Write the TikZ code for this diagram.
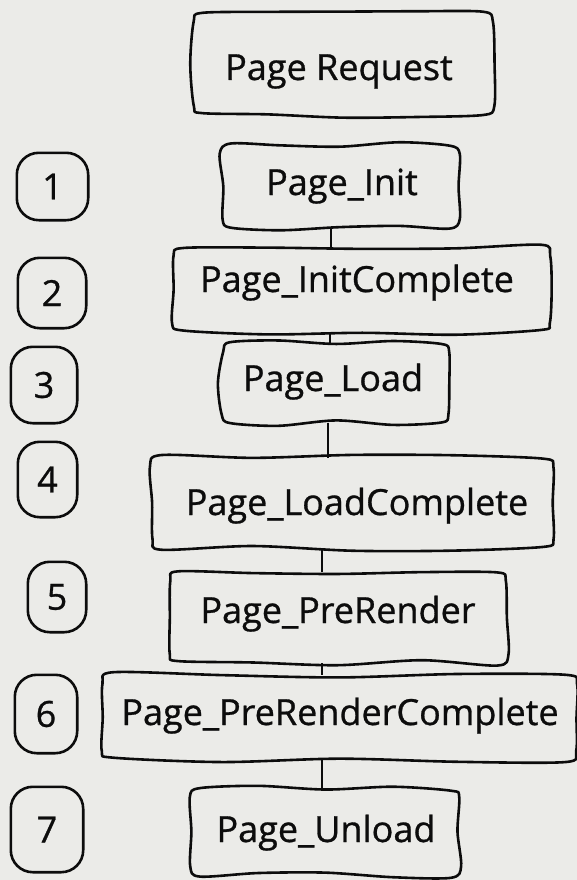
\documentclass[tikz,border=0pt]{standalone}
\usepackage{fontspec}
\setmainfont{Open Sans}[RawFeature={embolden=0.8}]
\usetikzlibrary{fit,calc}
\definecolor{bg}{RGB}{235,235,232}
\definecolor{ink}{RGB}{12,12,12}
\tikzset{
  stepbox/.style={inner sep=0pt, rectangle},
  skline/.style={draw=ink, line width=2.6pt, line join=round},
  txt/.style={inner sep=0pt, text=ink, font=\fontsize{36}{42}\selectfont},
  link/.style={draw=ink, line width=2.4pt}
}
% hand-drawn outline round a node: #1 node, #2 corner radius, #3 wobble
\newcommand\skbox[3]{%
  \draw[skline] plot[smooth cycle, tension=0.5] coordinates {
    ($(#1.north west)+(#2,{#3*rand})$)
    ($(#1.north west)!0.25!(#1.north east)+(0,{#3*rand})$)
    ($(#1.north west)!0.5!(#1.north east)+(0,{#3*rand})$)
    ($(#1.north west)!0.75!(#1.north east)+(0,{#3*rand})$)
    ($(#1.north east)+(-#2,{#3*rand})$)
    ($(#1.north east)+({#3*rand},#2)$)
    ($(#1.east)+({#3*rand},0)$)
    ($(#1.south east)+({#3*rand},-#2)$)
    ($(#1.south east)+(-#2,{#3*rand})$)
    ($(#1.south west)!0.75!(#1.south east)+(0,{#3*rand})$)
    ($(#1.south west)!0.5!(#1.south east)+(0,{#3*rand})$)
    ($(#1.south west)!0.25!(#1.south east)+(0,{#3*rand})$)
    ($(#1.south west)+(#2,{#3*rand})$)
    ($(#1.south west)+({#3*rand},-#2)$)
    ($(#1.west)+({#3*rand},0)$)
    ($(#1.north west)+({#3*rand},#2)$)
  };}
\begin{document}
\begin{tikzpicture}[x=1pt, y=-1pt]
\pgfmathsetseed{11}
\fill[bg] (0,0) rectangle (577,880);
\useasboundingbox (0,0) rectangle (577,880);

% step boxes
\node[stepbox, fit={(193,13) (492,115)}] (b0) {};
\node[stepbox, fit={(222,145) (458,228)}] (b1) {};
\node[stepbox, fit={(175,247) (550,332)}] (b2) {};
\node[stepbox, fit={(221,343) (451,423)}] (b3) {};
\node[stepbox, fit={(153,458) (552,548)}] (b4) {};
\node[stepbox, fit={(169,572) (506,663)}] (b5) {};
\node[stepbox, fit={(105,675) (574,760)}] (b6) {};
\node[stepbox, fit={(191,788) (460,875)}] (b7) {};
\foreach \b in {b0,b1,b2,b3,b4,b5,b6,b7} {\skbox{\b}{9}{3}}

% texts
\node[txt, anchor=base] (t0) at (339,80) {Page Request};
\node[txt, anchor=base] (t1) at (342,195) {Page\_Init};
\node[txt, anchor=base] (t2) at (357,292) {Page\_InitComplete};
\node[txt, anchor=base] (t3) at (333,391) {Page\_Load};
\node[txt, anchor=base] (t4) at (357,515) {Page\_LoadComplete};
\node[txt, anchor=base] (t5) at (338,623) {Page\_PreRender};
\node[txt, anchor=base] (t6) at (340,725) {Page\_PreRenderComplete};
\node[txt, anchor=base] (t7) at (326,842) {Page\_Unload};

% connectors
\draw[link] (b1.south -| 331,0) -- (b2.north -| 331,0);
\draw[link] (b2.south -| 330,0) -- (b3.north -| 330,0);
\draw[link] (b3.south -| 328,0) -- (b4.north -| 328,0);
\draw[link] (b4.south -| 322,0) -- (b5.north -| 322,0);
\draw[link] (b5.south -| 322,0) -- (b6.north -| 322,0);
\draw[link] (b6.south -| 322,0) -- (b7.north -| 322,0);

% step numbers
\node[stepbox, fit={(17,153) (88,220)}] (n1) {};
\node[stepbox, fit={(18,258) (86,328)}] (n2) {};
\node[stepbox, fit={(11,347) (77,423)}] (n3) {};
\node[stepbox, fit={(18,442) (77,517)}] (n4) {};
\node[stepbox, fit={(28,562) (86,632)}] (n5) {};
\node[stepbox, fit={(15,675) (77,753)}] (n6) {};
\node[stepbox, fit={(11,787) (83,872)}] (n7) {};
\foreach \n in {n1,n2,n3,n4,n5,n6,n7}
  {\draw[skline, rounded corners=22pt] (\n.north west) rectangle (\n.south east);}

\node[txt] (m1) at (n1.center) {1};
\node[txt] (m2) at (n2.center) {2};
\node[txt] (m3) at (n3.center) {3};
\node[txt] (m4) at (n4.center) {4};
\node[txt] (m5) at (n5.center) {5};
\node[txt] (m6) at (n6.center) {6};
\node[txt] (m7) at (n7.center) {7};
\end{tikzpicture}
\end{document}
